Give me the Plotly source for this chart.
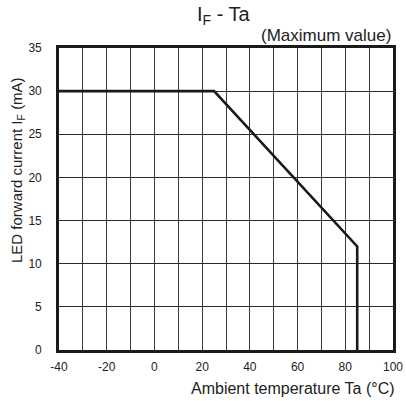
import plotly.graph_objects as go

# Derating curve (maximum value)
ta_values = [-40, 25, 85, 85]
if_values = [30, 30, 12, 0]

x_ticks = [-40, -20, 0, 20, 40, 60, 80, 100]
y_ticks = [0, 5, 10, 15, 20, 25, 30, 35]

FONT = "Liberation Sans, Arial, sans-serif"

fig = go.Figure()
fig.add_trace(go.Scatter(
    x=ta_values, y=if_values, mode="lines",
    line=dict(color="#1a1a1a", width=2.6),
    showlegend=False, hoverinfo="skip", cliponaxis=False,
))

fig.update_layout(
    width=406, height=401, autosize=False,
    margin=dict(l=59, r=13, t=48, b=51),
    paper_bgcolor="white", plot_bgcolor="white",
    font=dict(family=FONT, color="#222", size=12),
    xaxis=dict(
        range=[-40, 100], tickvals=x_ticks, ticktext=[str(v) for v in x_ticks],
        showgrid=True, gridcolor="#3a3a3a", gridwidth=1,
        showline=True, linecolor="#1a1a1a", linewidth=2.6, mirror=True,
        ticks="", zeroline=False, ticklabelstandoff=4, automargin=False,
        tickfont=dict(size=12, family=FONT, color="#222"),
        fixedrange=True,
    ),
    yaxis=dict(
        range=[0, 35], tickvals=y_ticks,
        showgrid=True, gridcolor="#2a2a2a", gridwidth=1,
        showline=True, linecolor="#1a1a1a", linewidth=2.6, mirror=True,
        ticks="", zeroline=False, ticklabelstandoff=12, automargin=False,
        tickfont=dict(size=12, family=FONT, color="#222"),
        fixedrange=True,
    ),
)

# minor vertical grid every 10
fig.update_xaxes(minor=dict(dtick=10, tick0=-40, showgrid=True, gridcolor="#3a3a3a", gridwidth=1))

annotations = [
    dict(text="I<sub>F</sub> - Ta", x=0.494, y=1.109, xref="paper", yref="paper",
         xanchor="center", yanchor="middle", showarrow=False,
         font=dict(size=20, family=FONT, color="#222")),
    dict(text="(Maximum value)", x=1.0, y=1.040, xref="paper", yref="paper",
         xanchor="right", yanchor="middle", showarrow=False,
         font=dict(size=17, family=FONT, color="#222")),
    dict(text="Ambient temperature Ta (°C)", x=1.012, y=-0.126, xref="paper", yref="paper",
         xanchor="right", yanchor="middle", showarrow=False,
         font=dict(size=16, family=FONT, color="#222")),
    dict(text="LED forward current I<sub>F</sub> (mA)", x=-0.1257, y=0.596, xref="paper", yref="paper",
         xanchor="center", yanchor="middle", showarrow=False, textangle=-90,
         font=dict(size=15, family=FONT, color="#222")),
]
fig.update_layout(annotations=annotations)

post = (
    "document.body.style.margin='0';"
    "document.body.style.overflow='hidden';"
)

fig.write_html(
    "out.html",
    config={"displayModeBar": False, "responsive": False},
    post_script=post,
)
